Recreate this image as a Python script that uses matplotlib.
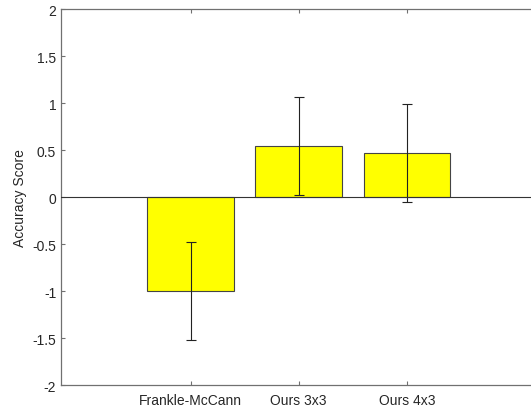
import matplotlib.pyplot as plt

plt.rcParams['font.family'] = ['Liberation Sans', 'DejaVu Sans']

methods = ["Frankle-McCann", "Ours 3x3", "Ours 4x3"]
scores = [-1.0, 0.54, 0.465]
errors = [0.52, 0.52, 0.52]

fig = plt.figure(figsize=(5.31, 4.10), dpi=100)
ax = fig.add_axes([0.1149, 0.0585, 0.8851, 0.9171])

x = list(range(1, len(methods) + 1))

ax.bar(
    x,
    scores,
    width=0.8,
    color="#ffff00",
    edgecolor="#444444",
    linewidth=0.8,
    zorder=2
)

ax.errorbar(
    x,
    scores,
    yerr=errors,
    fmt="none",
    ecolor="#222222",
    elinewidth=0.8,
    capsize=3.5,
    capthick=0.8,
    zorder=3
)

ax.axhline(0, color="#333333", linewidth=0.8, zorder=4)

ax.set_xlim(-0.2, 4.15)
ax.set_ylim(-2, 2)
ax.set_yticks([-2, -1.5, -1, -0.5, 0, 0.5, 1, 1.5, 2])
ax.set_yticklabels(["-2", "-1.5", "-1", "-0.5", "0", "0.5", "1", "1.5", "2"])
ax.set_xticks(x)
ax.set_xticklabels(methods)

ax.set_ylabel("Accuracy Score", fontsize=10, color="#262626")

for side in ["left", "bottom", "top"]:
    ax.spines[side].set_color("#707070")
    ax.spines[side].set_linewidth(0.9)
ax.spines["right"].set_visible(False)

ax.tick_params(
    direction="in",
    length=3,
    width=0.8,
    color="#707070",
    labelsize=10,
    labelcolor="#262626",
    top=True,
    right=False
)
ax.tick_params(axis="x", pad=6)

fig.savefig("out.png", dpi=100)
